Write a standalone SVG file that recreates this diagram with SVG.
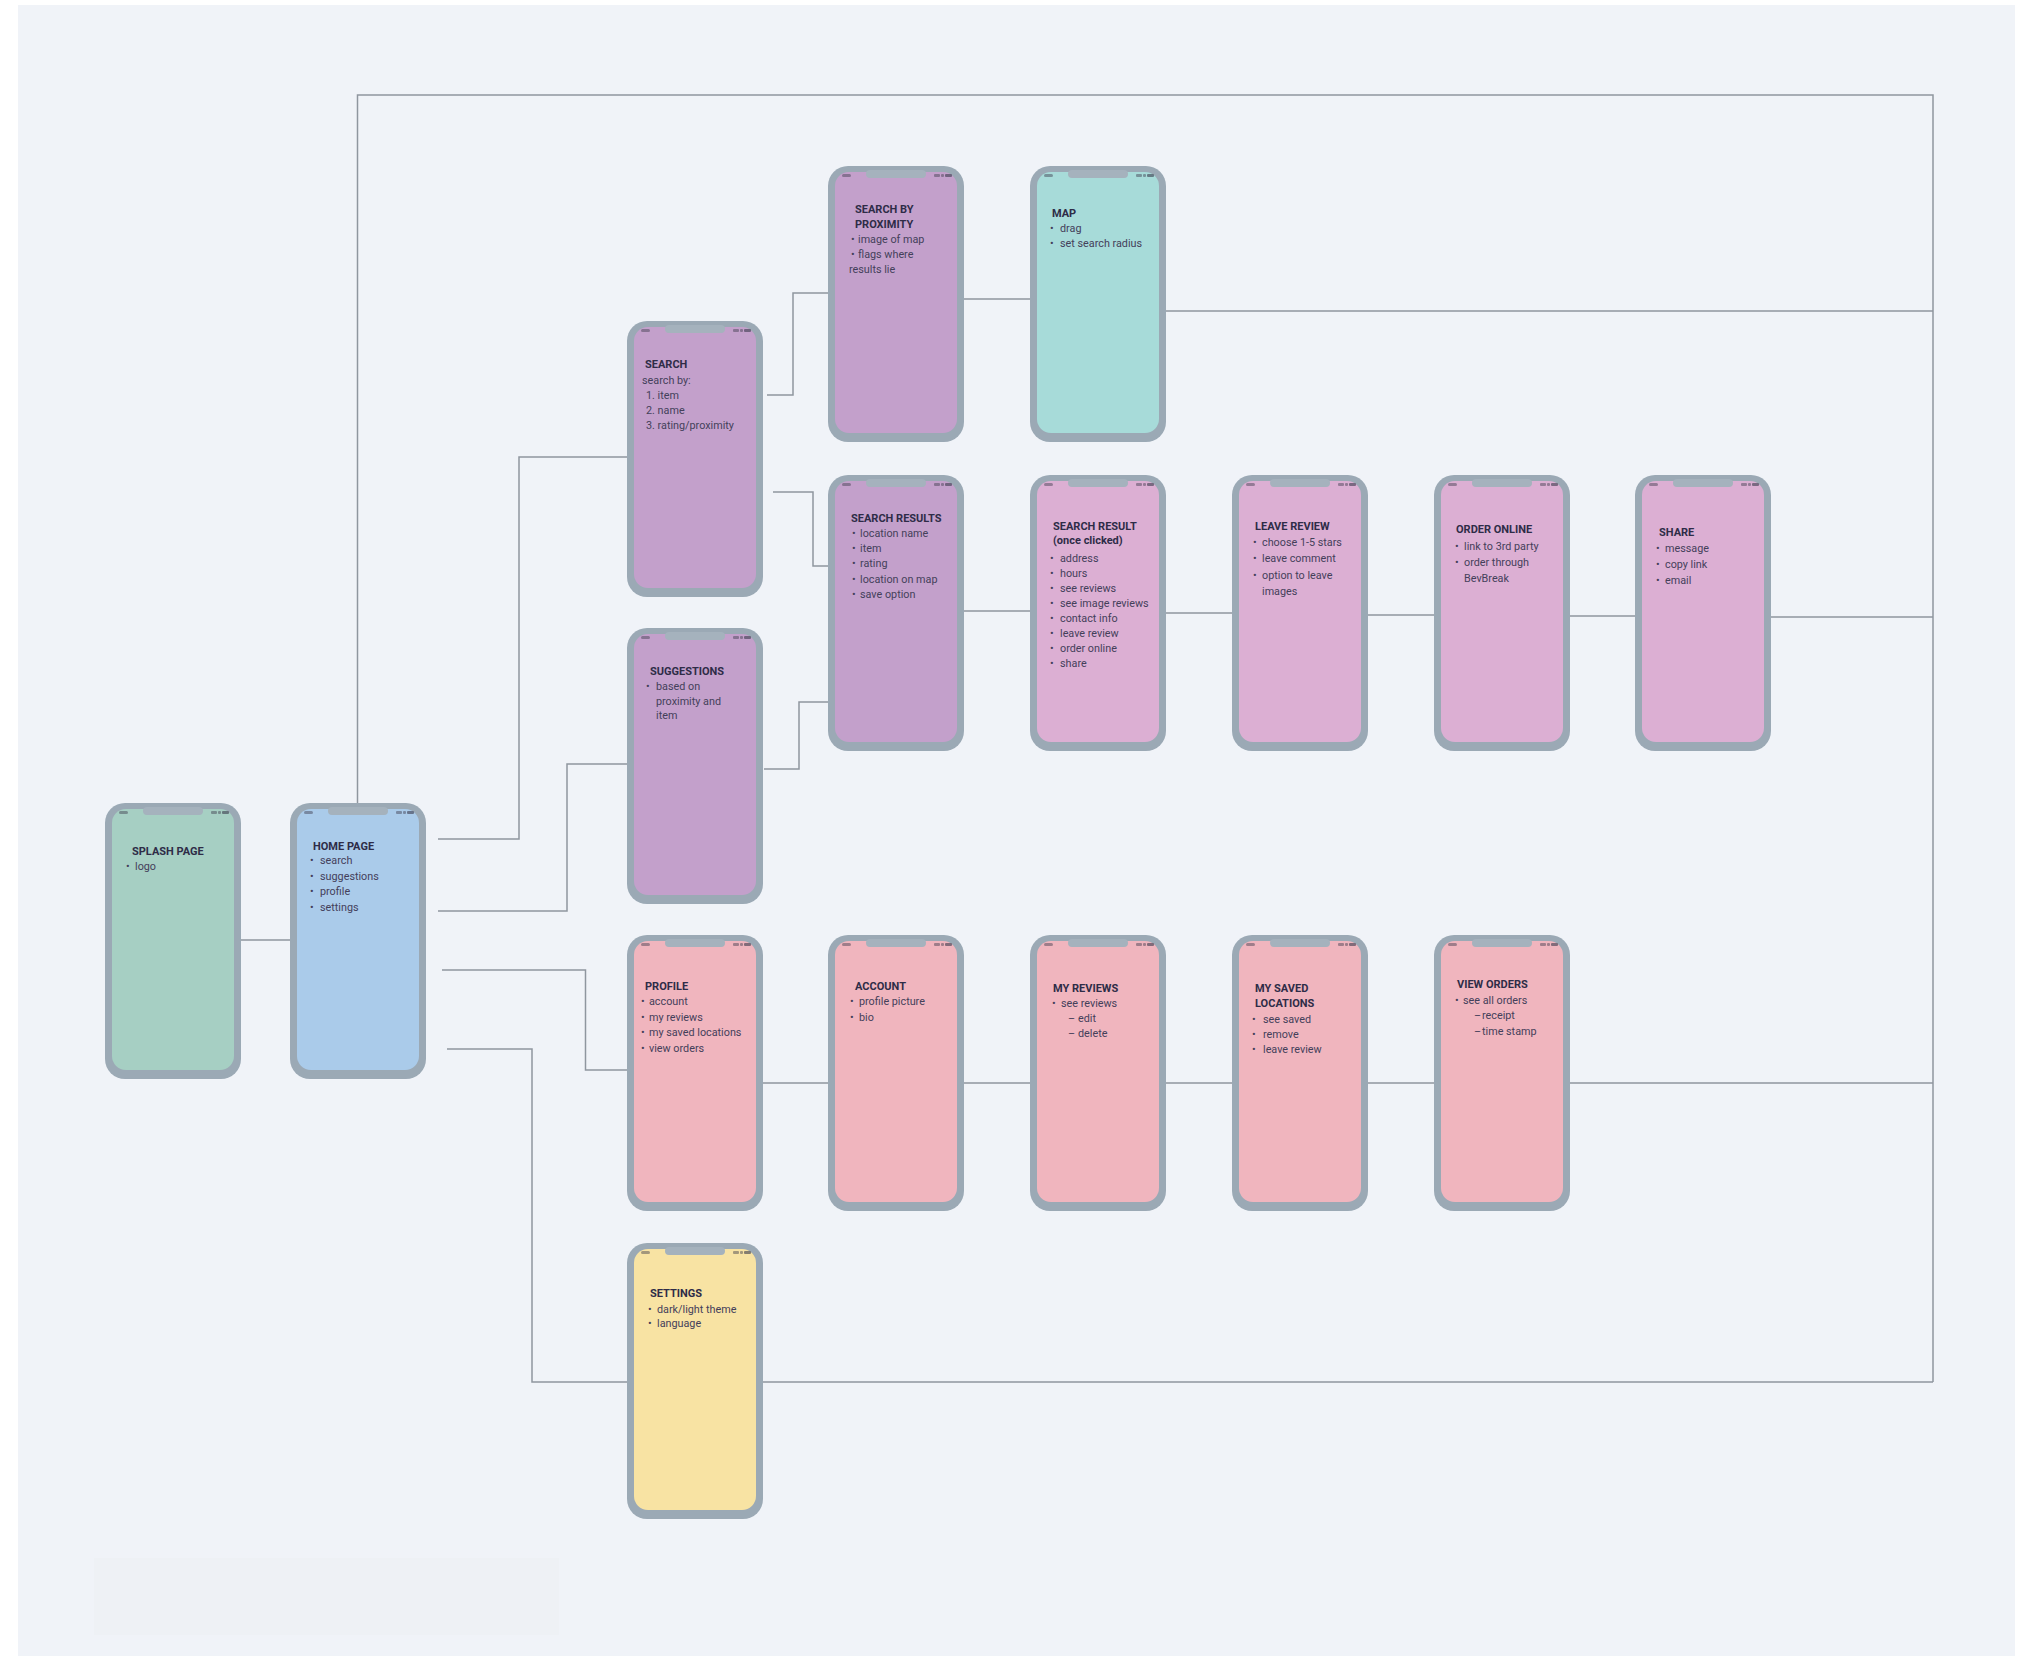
<svg xmlns="http://www.w3.org/2000/svg" xmlns:xlink="http://www.w3.org/1999/xlink" width="2031" height="1656" viewBox="0 0 2031 1656">
<style>
.frame{fill:#9ba9b5;}
.scr{stroke:none;}
.purple{fill:#c3a0cb;}
.lilac{fill:#dcafd3;}
.pink{fill:#f0b5be;}
.teal{fill:#a7dbd9;}
.sage{fill:#a6cfc3;}
.blue{fill:#aacbea;}
.yellow{fill:#f8e3a3;}
.t{font-family:Roboto,"Liberation Sans",sans-serif;font-weight:700;font-size:11px;fill:#2e2c47;}
.b{font-family:Roboto,"Liberation Sans",sans-serif;font-size:10.8px;fill:#44405a;}
.conn path{fill:none;stroke:#8f969f;stroke-width:1.5;}
</style>
<defs>
<g id="chrome">
<rect x="38" y="4" width="60" height="8" rx="4" fill="#a5b2bd"/>
<rect x="14" y="8" width="9" height="3" rx="1.5" fill="#3b3a4c" opacity="0.45"/>
<rect x="106" y="8" width="6" height="3" rx="1" fill="#3b3a4c" opacity="0.45"/>
<rect x="113" y="8" width="3" height="3" rx="1" fill="#3b3a4c" opacity="0.45"/>
<rect x="117" y="8" width="7" height="3" rx="1" fill="#3b3a4c" opacity="0.6"/>
</g>
</defs>
<rect x="0" y="0" width="2031" height="1656" fill="#ffffff"/>
<rect x="18" y="5" width="1997" height="1651" fill="#f0f3f8"/>
<rect x="94" y="1558" width="465" height="77" fill="#eef1f5"/>

<g id="connectors" class="conn">
<path d="M241 940 H290"/>
<path d="M357.5 803 V95 H1933 V1382"/>
<path d="M438 839 H519 V457 H627"/>
<path d="M438 911 H567 V764 H627"/>
<path d="M442 970 H585.5 V1070 H627"/>
<path d="M447 1049 H532 V1382 H627"/>
<path d="M767 395 H793 V293 H828"/>
<path d="M773 492 H813 V566 H828"/>
<path d="M764 769 H799 V702 H828"/>
<path d="M964 299 H1030"/>
<path d="M1166 311 H1933"/>
<path d="M964 611 H1030"/>
<path d="M1166 613 H1232"/>
<path d="M1368 615 H1434"/>
<path d="M1570 616 H1635"/>
<path d="M1771 617 H1933"/>
<path d="M763 1083 H828"/>
<path d="M964 1083 H1030"/>
<path d="M1166 1083 H1232"/>
<path d="M1368 1083 H1434"/>
<path d="M1570 1083 H1933"/>
<path d="M763 1382 H1933"/>
</g>

<g id="splash">
<rect class="frame" x="105" y="803" width="136" height="276" rx="20"/>
<rect class="scr sage" x="112" y="809" width="122" height="261" rx="14"/>
<use xlink:href="#chrome" x="105" y="803"/>
<text class="t" x="132" y="855">SPLASH PAGE</text>
<text class="b" x="126" y="870">•</text><text class="b" x="135" y="870">logo</text>
</g>

<g id="home">
<rect class="frame" x="290" y="803" width="136" height="276" rx="20"/>
<rect class="scr blue" x="297" y="809" width="122" height="261" rx="14"/>
<use xlink:href="#chrome" x="290" y="803"/>
<text class="t" x="313" y="850">HOME PAGE</text>
<text class="b" x="310" y="864">•</text><text class="b" x="320" y="864">search</text>
<text class="b" x="310" y="879.5">•</text><text class="b" x="320" y="879.5">suggestions</text>
<text class="b" x="310" y="895">•</text><text class="b" x="320" y="895">profile</text>
<text class="b" x="310" y="910.5">•</text><text class="b" x="320" y="910.5">settings</text>
</g>

<g id="search">
<rect class="frame" x="627" y="321" width="136" height="276" rx="20"/>
<rect class="scr purple" x="634" y="327" width="122" height="261" rx="14"/>
<use xlink:href="#chrome" x="627" y="321"/>
<text class="t" x="645" y="368">SEARCH</text>
<text class="b" x="642" y="384">search by:</text>
<text class="b" x="646" y="399">1. item</text>
<text class="b" x="646" y="414">2. name</text>
<text class="b" x="646" y="429">3. rating/proximity</text>
</g>

<g id="suggestions">
<rect class="frame" x="627" y="628" width="136" height="276" rx="20"/>
<rect class="scr purple" x="634" y="634" width="122" height="261" rx="14"/>
<use xlink:href="#chrome" x="627" y="628"/>
<text class="t" x="650" y="675">SUGGESTIONS</text>
<text class="b" x="646" y="690">•</text><text class="b" x="656" y="690">based on</text>
<text class="b" x="656" y="705">proximity and</text>
<text class="b" x="656" y="719">item</text>
</g>

<g id="search-by-proximity">
<rect class="frame" x="828" y="166" width="136" height="276" rx="20"/>
<rect class="scr purple" x="835" y="172" width="122" height="261" rx="14"/>
<use xlink:href="#chrome" x="828" y="166"/>
<text class="t" x="855" y="213">SEARCH BY</text>
<text class="t" x="855" y="228">PROXIMITY</text>
<text class="b" x="851" y="243">•</text><text class="b" x="858" y="243">image of map</text>
<text class="b" x="851" y="258">•</text><text class="b" x="858" y="258">flags where</text>
<text class="b" x="849" y="273">results lie</text>
</g>

<g id="map">
<rect class="frame" x="1030" y="166" width="136" height="276" rx="20"/>
<rect class="scr teal" x="1037" y="172" width="122" height="261" rx="14"/>
<use xlink:href="#chrome" x="1030" y="166"/>
<text class="t" x="1052" y="217">MAP</text>
<text class="b" x="1050" y="232">•</text><text class="b" x="1060" y="232">drag</text>
<text class="b" x="1050" y="247">•</text><text class="b" x="1060" y="247">set search radius</text>
</g>

<g id="search-results">
<rect class="frame" x="828" y="475" width="136" height="276" rx="20"/>
<rect class="scr purple" x="835" y="481" width="122" height="261" rx="14"/>
<use xlink:href="#chrome" x="828" y="475"/>
<text class="t" x="851" y="522">SEARCH RESULTS</text>
<text class="b" x="852" y="537">•</text><text class="b" x="860" y="537">location name</text>
<text class="b" x="852" y="552">•</text><text class="b" x="860" y="552">item</text>
<text class="b" x="852" y="567">•</text><text class="b" x="860" y="567">rating</text>
<text class="b" x="852" y="583">•</text><text class="b" x="860" y="583">location on map</text>
<text class="b" x="852" y="598">•</text><text class="b" x="860" y="598">save option</text>
</g>

<g id="search-result-clicked">
<rect class="frame" x="1030" y="475" width="136" height="276" rx="20"/>
<rect class="scr lilac" x="1037" y="481" width="122" height="261" rx="14"/>
<use xlink:href="#chrome" x="1030" y="475"/>
<text class="t" x="1053" y="530">SEARCH RESULT</text>
<text class="t" x="1053" y="544">(once clicked)</text>
<text class="b" x="1050" y="562">•</text><text class="b" x="1060" y="562">address</text>
<text class="b" x="1050" y="577">•</text><text class="b" x="1060" y="577">hours</text>
<text class="b" x="1050" y="592">•</text><text class="b" x="1060" y="592">see reviews</text>
<text class="b" x="1050" y="607">•</text><text class="b" x="1060" y="607">see image reviews</text>
<text class="b" x="1050" y="622">•</text><text class="b" x="1060" y="622">contact info</text>
<text class="b" x="1050" y="637">•</text><text class="b" x="1060" y="637">leave review</text>
<text class="b" x="1050" y="652">•</text><text class="b" x="1060" y="652">order online</text>
<text class="b" x="1050" y="667">•</text><text class="b" x="1060" y="667">share</text>
</g>

<g id="leave-review">
<rect class="frame" x="1232" y="475" width="136" height="276" rx="20"/>
<rect class="scr lilac" x="1239" y="481" width="122" height="261" rx="14"/>
<use xlink:href="#chrome" x="1232" y="475"/>
<text class="t" x="1255" y="530">LEAVE REVIEW</text>
<text class="b" x="1253" y="546">•</text><text class="b" x="1262" y="546">choose 1-5 stars</text>
<text class="b" x="1253" y="562">•</text><text class="b" x="1262" y="562">leave comment</text>
<text class="b" x="1253" y="579">•</text><text class="b" x="1262" y="579">option to leave</text>
<text class="b" x="1262" y="595">images</text>
</g>

<g id="order-online">
<rect class="frame" x="1434" y="475" width="136" height="276" rx="20"/>
<rect class="scr lilac" x="1441" y="481" width="122" height="261" rx="14"/>
<use xlink:href="#chrome" x="1434" y="475"/>
<text class="t" x="1456" y="533">ORDER ONLINE</text>
<text class="b" x="1455" y="550">•</text><text class="b" x="1464" y="550">link to 3rd party</text>
<text class="b" x="1455" y="566">•</text><text class="b" x="1464" y="566">order through</text>
<text class="b" x="1464" y="582">BevBreak</text>
</g>

<g id="share">
<rect class="frame" x="1635" y="475" width="136" height="276" rx="20"/>
<rect class="scr lilac" x="1642" y="481" width="122" height="261" rx="14"/>
<use xlink:href="#chrome" x="1635" y="475"/>
<text class="t" x="1659" y="536">SHARE</text>
<text class="b" x="1656" y="552">•</text><text class="b" x="1665" y="552">message</text>
<text class="b" x="1656" y="568">•</text><text class="b" x="1665" y="568">copy link</text>
<text class="b" x="1656" y="584">•</text><text class="b" x="1665" y="584">email</text>
</g>

<g id="profile">
<rect class="frame" x="627" y="935" width="136" height="276" rx="20"/>
<rect class="scr pink" x="634" y="941" width="122" height="261" rx="14"/>
<use xlink:href="#chrome" x="627" y="935"/>
<text class="t" x="645" y="990">PROFILE</text>
<text class="b" x="641" y="1005">•</text><text class="b" x="649" y="1005">account</text>
<text class="b" x="641" y="1021">•</text><text class="b" x="649" y="1021">my reviews</text>
<text class="b" x="641" y="1036">•</text><text class="b" x="649" y="1036">my saved locations</text>
<text class="b" x="641" y="1052">•</text><text class="b" x="649" y="1052">view orders</text>
</g>

<g id="account">
<rect class="frame" x="828" y="935" width="136" height="276" rx="20"/>
<rect class="scr pink" x="835" y="941" width="122" height="261" rx="14"/>
<use xlink:href="#chrome" x="828" y="935"/>
<text class="t" x="855" y="990">ACCOUNT</text>
<text class="b" x="850" y="1005">•</text><text class="b" x="859" y="1005">profile picture</text>
<text class="b" x="850" y="1021">•</text><text class="b" x="859" y="1021">bio</text>
</g>

<g id="my-reviews">
<rect class="frame" x="1030" y="935" width="136" height="276" rx="20"/>
<rect class="scr pink" x="1037" y="941" width="122" height="261" rx="14"/>
<use xlink:href="#chrome" x="1030" y="935"/>
<text class="t" x="1053" y="992">MY REVIEWS</text>
<text class="b" x="1052" y="1007">•</text><text class="b" x="1061" y="1007">see reviews</text>
<text class="b" x="1068" y="1022">–</text><text class="b" x="1078" y="1022">edit</text>
<text class="b" x="1068" y="1037">–</text><text class="b" x="1078" y="1037">delete</text>
</g>

<g id="my-saved-locations">
<rect class="frame" x="1232" y="935" width="136" height="276" rx="20"/>
<rect class="scr pink" x="1239" y="941" width="122" height="261" rx="14"/>
<use xlink:href="#chrome" x="1232" y="935"/>
<text class="t" x="1255" y="992">MY SAVED</text>
<text class="t" x="1255" y="1007">LOCATIONS</text>
<text class="b" x="1252" y="1023">•</text><text class="b" x="1263" y="1023">see saved</text>
<text class="b" x="1252" y="1038">•</text><text class="b" x="1263" y="1038">remove</text>
<text class="b" x="1252" y="1053">•</text><text class="b" x="1263" y="1053">leave review</text>
</g>

<g id="view-orders">
<rect class="frame" x="1434" y="935" width="136" height="276" rx="20"/>
<rect class="scr pink" x="1441" y="941" width="122" height="261" rx="14"/>
<use xlink:href="#chrome" x="1434" y="935"/>
<text class="t" x="1457" y="988">VIEW ORDERS</text>
<text class="b" x="1455" y="1004">•</text><text class="b" x="1463" y="1004">see all orders</text>
<text class="b" x="1474" y="1019">–</text><text class="b" x="1482" y="1019">receipt</text>
<text class="b" x="1474" y="1035">–</text><text class="b" x="1482" y="1035">time stamp</text>
</g>

<g id="settings">
<rect class="frame" x="627" y="1243" width="136" height="276" rx="20"/>
<rect class="scr yellow" x="634" y="1249" width="122" height="261" rx="14"/>
<use xlink:href="#chrome" x="627" y="1243"/>
<text class="t" x="650" y="1297">SETTINGS</text>
<text class="b" x="648" y="1313">•</text><text class="b" x="657" y="1313">dark/light theme</text>
<text class="b" x="648" y="1327">•</text><text class="b" x="657" y="1327">language</text>
</g>
</svg>
